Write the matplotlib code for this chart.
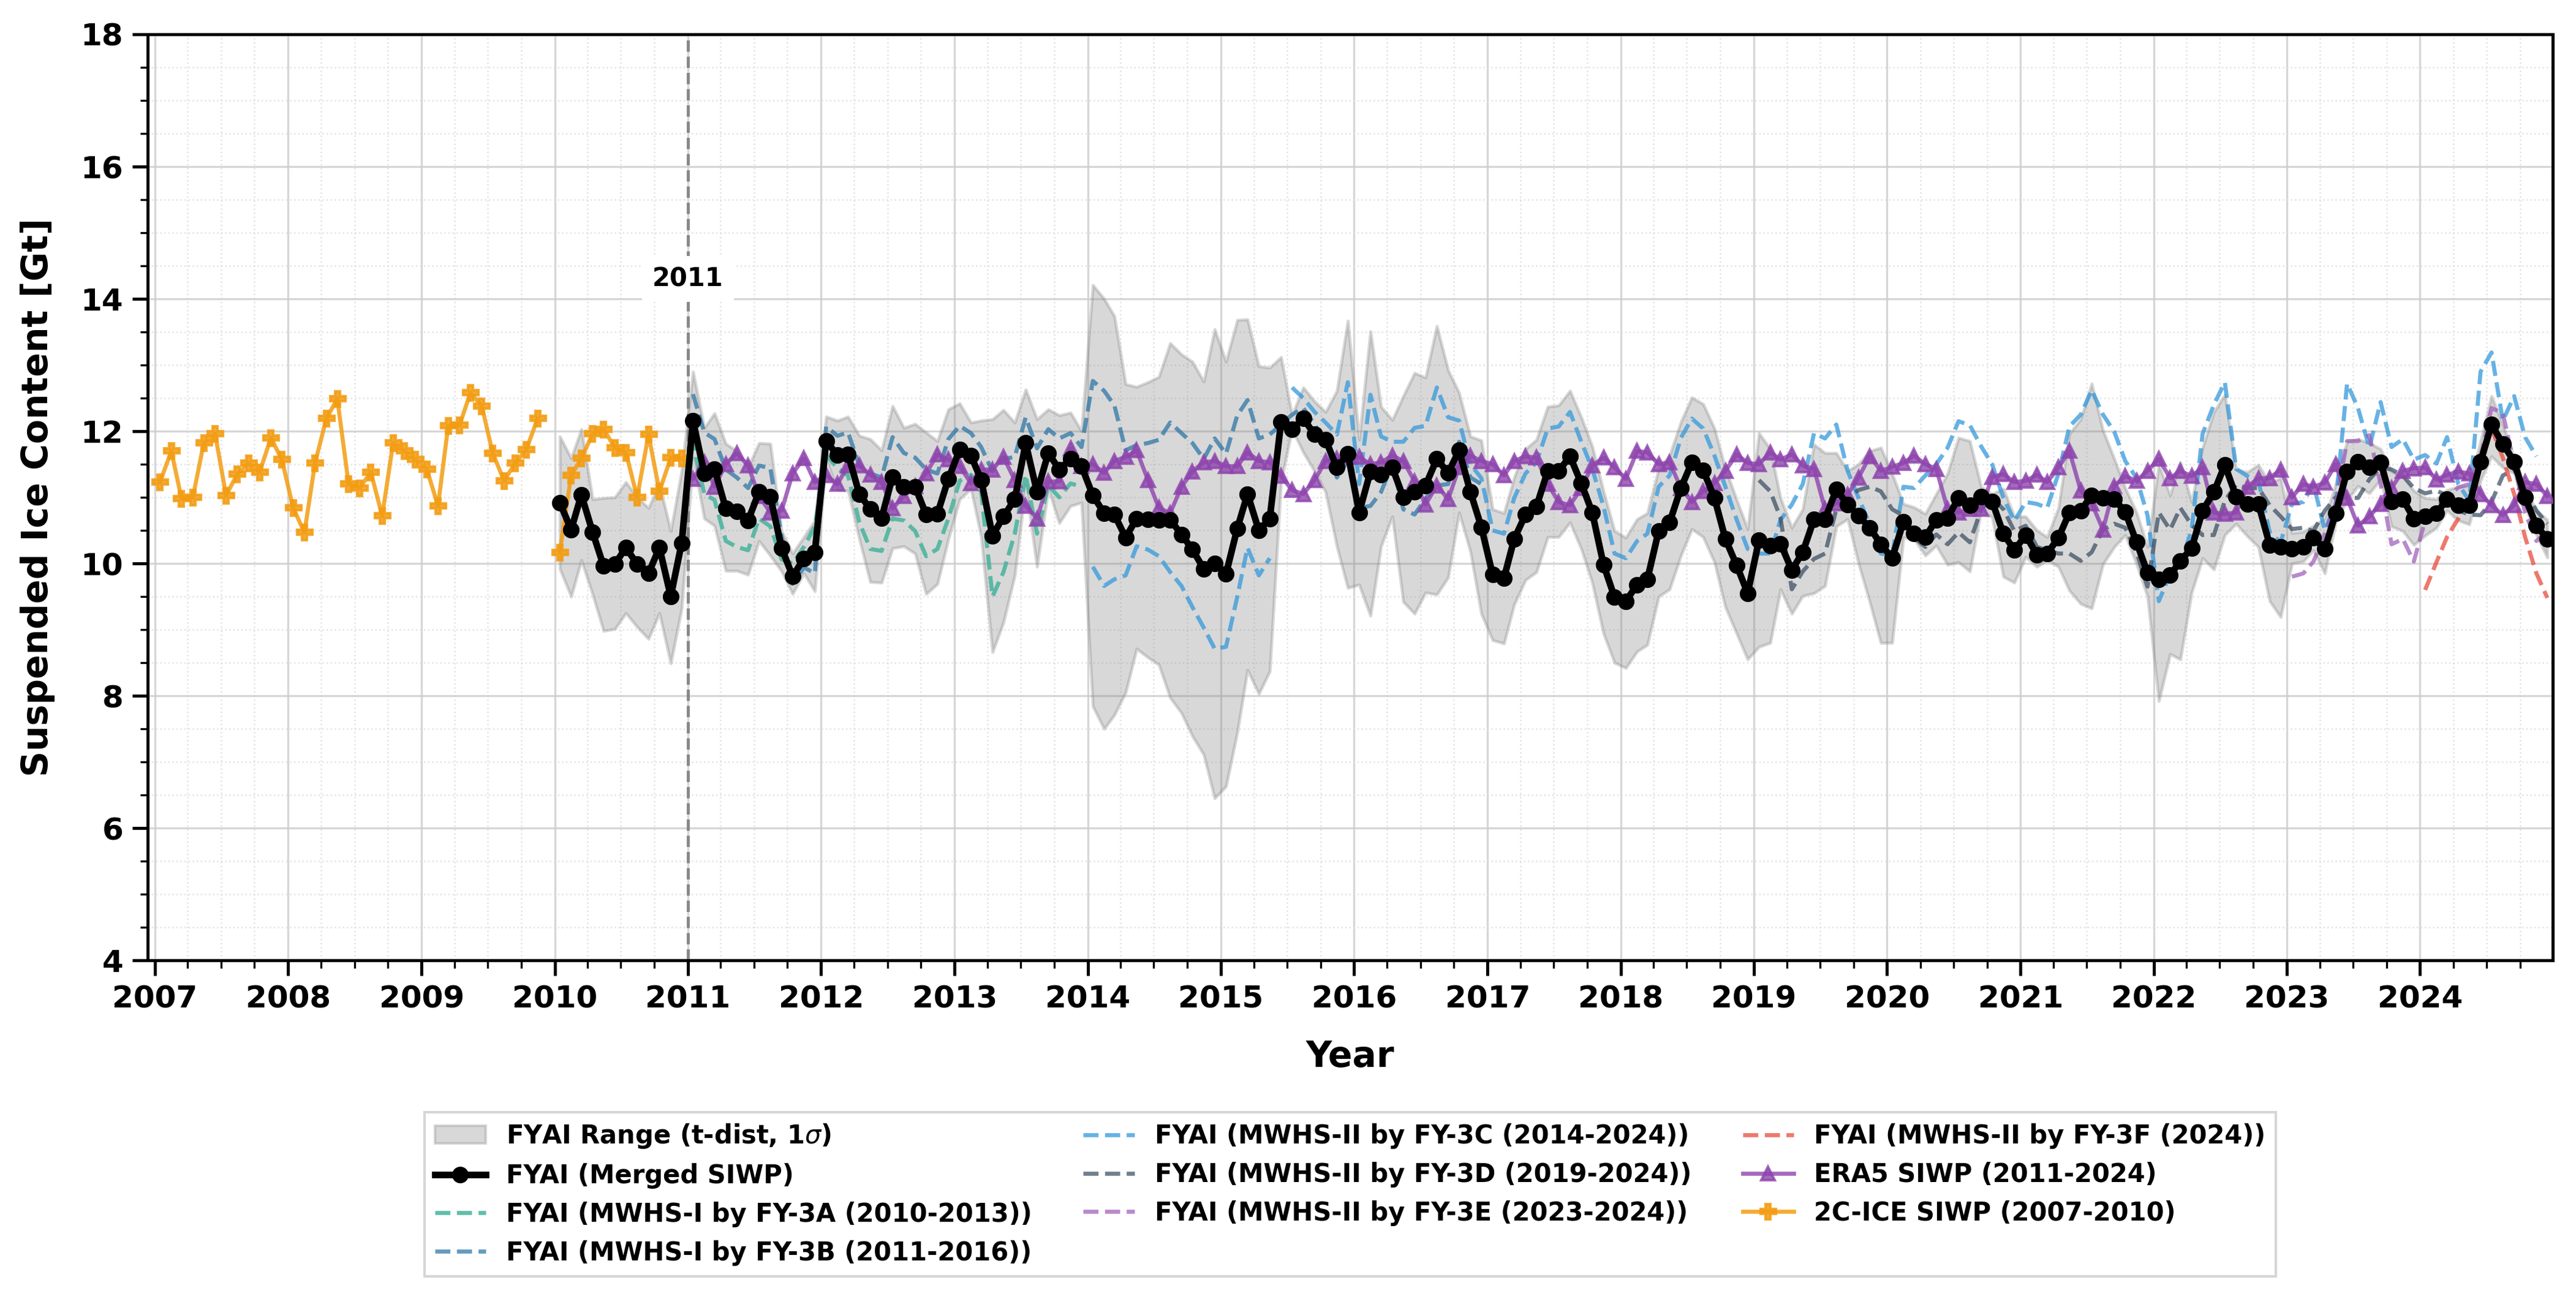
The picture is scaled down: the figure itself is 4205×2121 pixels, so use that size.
import numpy as np
import pandas as pd
import matplotlib
matplotlib.use("Agg")
import matplotlib.pyplot as plt
import matplotlib.dates as mdates
from matplotlib.patches import Patch

nan = np.nan

# monthly values (Gt)
merged_siwp = [
    10.92, 10.51, 11.04, 10.47, 9.96, 9.99, 10.24, 9.99, 9.85, 10.24, 9.50, 10.31,
    12.16, 11.36, 11.43, 10.83, 10.79, 10.65, 11.08, 11.01, 10.23, 9.81, 10.07, 10.17,
    11.85, 11.64, 11.65, 11.05, 10.82, 10.69, 11.31, 11.16, 11.16, 10.74, 10.75, 11.28,
    11.72, 11.63, 11.26, 10.42, 10.71, 10.97, 11.82, 11.08, 11.67, 11.42, 11.58, 11.47,
    11.03, 10.76, 10.74, 10.39, 10.68, 10.67, 10.66, 10.66, 10.44, 10.21, 9.92, 10.00,
    9.84, 10.53, 11.05, 10.50, 10.68, 12.14, 12.03, 12.19, 11.95, 11.87, 11.45, 11.66,
    10.77, 11.39, 11.34, 11.45, 11.00, 11.08, 11.18, 11.58, 11.37, 11.71, 11.08, 10.55,
    9.83, 9.78, 10.37, 10.74, 10.86, 11.40, 11.40, 11.62, 11.21, 10.77, 9.98, 9.49,
    9.43, 9.68, 9.76, 10.49, 10.62, 11.14, 11.53, 11.41, 10.99, 10.37, 9.97, 9.55,
    10.35, 10.27, 10.30, 9.90, 10.17, 10.67, 10.67, 11.12, 10.89, 10.72, 10.54, 10.29,
    10.08, 10.63, 10.45, 10.40, 10.66, 10.69, 10.99, 10.88, 11.01, 10.94, 10.45, 10.20,
    10.43, 10.13, 10.15, 10.39, 10.77, 10.80, 11.03, 10.99, 10.97, 10.78, 10.32, 9.86,
    9.76, 9.82, 10.04, 10.23, 10.80, 11.08, 11.49, 11.01, 10.90, 10.90, 10.28, 10.25,
    10.22, 10.25, 10.39, 10.22, 10.76, 11.39, 11.54, 11.45, 11.53, 10.94, 10.97, 10.68,
    10.71, 10.76, 10.97, 10.88, 10.88, 11.54, 12.10, 11.81, 11.54, 11.00, 10.57, 10.37,
]

range_upper = [
    11.92, 11.59, 12.03, 10.97, 10.99, 11.00, 11.23, 11.00, 10.84, 11.20, 10.49, 11.40,
    12.90, 12.05, 12.27, 11.81, 11.70, 11.45, 11.82, 11.81, 10.49, 10.15, 10.40, 10.65,
    12.22, 12.16, 12.22, 11.93, 11.88, 11.71, 12.38, 12.05, 12.11, 11.98, 11.85, 12.33,
    12.42, 12.13, 12.16, 12.18, 12.32, 12.13, 12.63, 12.18, 12.33, 12.24, 12.28, 12.00,
    14.21, 14.00, 13.74, 12.71, 12.67, 12.74, 12.82, 13.33, 13.16, 13.05, 12.75, 13.54,
    13.05, 13.68, 13.69, 12.98, 12.96, 13.12, 12.24, 12.66, 12.45, 12.29, 12.61, 13.67,
    11.87, 13.51, 12.37, 12.17, 12.53, 12.88, 12.81, 13.59, 12.92, 12.58, 11.92, 11.86,
    10.82, 10.76, 11.30, 11.73, 11.87, 12.37, 12.39, 12.61, 12.21, 11.77, 11.09, 10.49,
    10.39, 10.67, 10.76, 11.43, 11.63, 12.14, 12.51, 12.41, 12.04, 11.43, 10.96, 10.52,
    11.97, 11.73, 10.99, 10.54, 10.82, 11.80, 11.67, 11.67, 11.40, 11.50, 11.70, 11.75,
    11.36, 10.90, 10.85, 10.75, 11.05, 11.36, 11.90, 11.85, 11.16, 11.05, 11.13, 10.71,
    10.71, 10.50, 10.40, 10.84, 11.96, 12.18, 12.72, 12.01, 11.58, 11.14, 10.77, 10.25,
    11.49, 11.03, 11.53, 10.93, 11.75, 12.29, 12.55, 11.42, 11.38, 11.49, 11.21, 11.29,
    10.46, 10.48, 10.57, 10.68, 11.20, 11.85, 11.88, 11.82, 11.73, 11.39, 11.31, 11.10,
    10.99, 10.97, 11.11, 11.16, 11.17, 11.85, 12.53, 12.10, 11.60, 11.14, 10.80, 10.66,
]

range_lower = [
    9.92, 9.50, 10.05, 9.53, 8.98, 9.01, 9.25, 9.04, 8.86, 9.25, 8.49, 9.32,
    11.60, 10.68, 10.57, 9.89, 9.89, 9.83, 10.34, 10.12, 9.88, 9.54, 9.85, 9.58,
    11.57, 11.11, 11.10, 10.37, 9.72, 9.71, 10.23, 10.26, 10.15, 9.54, 9.69, 10.37,
    10.97, 11.13, 10.40, 8.66, 9.11, 9.82, 11.18, 9.95, 11.13, 10.61, 10.87, 10.92,
    7.84, 7.50, 7.71, 8.05, 8.71, 8.58, 8.47, 7.97, 7.74, 7.39, 7.11, 6.45,
    6.63, 7.45, 8.39, 8.03, 8.37, 11.24, 12.03, 11.68, 11.39, 11.08, 10.26, 9.63,
    9.68, 9.21, 10.26, 10.71, 9.42, 9.24, 9.56, 9.53, 9.79, 10.77, 10.18, 9.24,
    8.84, 8.79, 9.38, 9.75, 9.87, 10.40, 10.40, 10.62, 10.22, 9.71, 8.94, 8.50,
    8.42, 8.67, 8.77, 9.50, 9.61, 10.12, 10.52, 10.40, 10.02, 9.34, 8.94, 8.55,
    8.74, 8.80, 9.61, 9.24, 9.51, 9.55, 9.66, 10.56, 10.67, 10.00, 9.41, 8.80,
    8.80, 10.39, 10.37, 10.12, 10.27, 9.98, 10.02, 9.88, 10.80, 10.70, 9.80, 9.71,
    10.10, 9.95, 10.05, 9.95, 9.59, 9.39, 9.32, 9.99, 10.25, 10.43, 9.99, 9.50,
    7.92, 8.63, 8.55, 9.56, 10.08, 9.91, 10.43, 10.60, 10.41, 10.25, 9.43, 9.19,
    10.00, 10.03, 10.20, 9.85, 10.62, 10.96, 11.17, 11.06, 11.27, 10.56, 10.49, 10.28,
    10.42, 10.54, 10.80, 10.65, 10.59, 11.25, 11.62, 11.45, 11.36, 10.86, 10.43, 10.09,
]

fy3a = [
    10.92, 10.51, 11.04, 10.47, 9.96, 9.99, 10.24, 9.99, 9.85, 10.24, 9.50, 10.31,
    11.82, 11.05, 10.96, 10.34, 10.25, 10.20, 10.68, 10.56, 10.06, 10.00, 10.25, 10.56,
    11.64, 11.44, 11.33, 10.62, 10.22, 10.19, 10.68, 10.65, 10.49, 10.11, 10.22, 10.68,
    11.25, 11.34, 11.08, 9.50, 9.87, 10.45, 11.34, 10.45, 11.18, 11.00, 11.21, 11.16,
]

fy3b = [
    12.56, 11.98, 11.88, 11.42, 11.30, 11.14, 11.48, 11.44, 10.40, 9.69, 9.94, 9.85,
    12.07, 11.93, 11.98, 11.48, 11.36, 11.30, 11.91, 11.67, 11.60, 11.42, 11.36, 11.88,
    12.08, 11.97, 11.76, 11.39, 11.58, 11.61, 12.21, 11.74, 12.03, 11.89, 11.97, 11.76,
    12.76, 12.61, 12.39, 11.71, 11.79, 11.82, 11.87, 12.13, 11.97, 11.82, 11.58, 11.89,
    11.66, 12.24, 12.47, 11.89, 11.95, 12.10, 12.25, 12.35, 12.10, 11.85, 11.30, 11.55,
    10.84, 10.87, 11.08, 11.50, 10.82, 10.74, 10.98, 11.18, 11.20, 11.84, 11.30, 11.20,
]

fy3c = [
    9.95, 9.66, 9.76, 9.82, 10.26, 10.21, 10.11, 9.87, 9.66, 9.34, 9.03, 8.71,
    8.74, 9.50, 10.24, 9.82, 10.08, nan, 12.66, 12.50, 12.29, 12.13, 11.95, 12.74,
    11.20, 12.55, 11.92, 11.84, 11.84, 12.05, 12.08, 12.66, 12.21, 12.16, 11.50, 11.29,
    10.50, 10.45, 10.99, 11.36, 11.53, 12.04, 12.07, 12.29, 11.84, 11.43, 10.86, 10.15,
    10.08, 10.34, 10.45, 11.16, 11.33, 11.90, 12.19, 12.04, 11.63, 11.16, 10.66, 10.22,
    10.15, 10.15, 10.66, 10.89, 11.20, 11.97, 11.89, 12.10, 11.40, 10.99, 10.59, 10.15,
    10.12, 11.16, 11.14, 11.33, 11.50, 11.75, 12.15, 12.09, 11.77, 11.50, 10.99, 10.64,
    10.93, 10.90, 10.84, 11.36, 12.07, 12.25, 12.62, 12.25, 11.99, 11.55, 11.29, 10.73,
    9.43, 9.84, 9.99, 10.51, 11.96, 12.40, 12.74, 11.43, 11.32, 11.25, 10.47, 10.32,
    10.90, 10.93, 11.20, 10.50, 10.90, 12.72, 12.35, 11.75, 12.44, 11.76, 11.88, 11.57,
    11.64, 11.51, 11.91, 11.20, 10.95, 12.90, 13.19, 12.16, 12.53, 11.91, 11.62,
]

fy3d = [
    11.26, 11.09, 10.69, 9.61, 9.88, 10.07, 10.15, 10.82, 11.00, 11.11, 11.16, 11.09,
    10.82, 10.72, 10.39, 10.25, 10.44, 10.29, 10.47, 10.32, 10.82, 10.99, 10.82, 10.49,
    10.57, 10.25, 10.20, 10.15, 10.15, 10.04, 10.17, 10.51, 10.60, 10.54, 10.17, 9.65,
    10.77, 10.51, 10.84, 10.58, 10.43, 10.43, 10.95, 11.19, 11.14, 11.14, 10.88, 10.71,
    10.52, 10.54, 10.49, 10.80, 11.00, 11.00, 10.99, 11.27, 11.45, 11.42, 11.33, 11.14,
    11.06, 11.10, 11.03, 10.80, 10.74, 10.73, 10.93, 11.33, 11.42, 11.11, 10.80, 10.60,
]

fy3e = [
    9.80, 9.85, 10.03, 10.45, 10.90, 11.85, 11.85, 11.94, 11.20, 10.29, 10.37, 10.03,
    10.65, 10.85, 11.00, 11.15, 11.20, 11.60, 12.35, 12.27, 11.50, 10.77, 10.34, 10.49,
]

fy3f = [9.60, 10.02, 10.40, 10.68, 10.99, 11.50, 12.04, 11.60, 11.05, 10.40, 9.85, 9.48]

era5 = [
    11.28, 11.53, 11.16, 11.50, 11.67, 11.48, 11.02, 10.77, 10.80, 11.36, 11.59, 11.23,
    11.33, 11.20, 11.48, 11.48, 11.34, 11.23, 10.83, 11.02, 11.17, 11.36, 11.65, 11.57,
    11.47, 11.21, 11.42, 11.42, 11.61, 11.26, 10.87, 10.68, 11.24, 11.24, 11.74, 11.47,
    11.50, 11.37, 11.55, 11.61, 11.71, 11.26, 10.84, 10.76, 11.16, 11.39, 11.53, 11.55,
    11.47, 11.47, 11.68, 11.55, 11.53, 11.32, 11.11, 11.05, 11.26, 11.55, 11.58, 11.61,
    11.61, 11.50, 11.53, 11.63, 11.55, 11.24, 10.89, 11.18, 10.97, 11.45, 11.63, 11.55,
    11.50, 11.33, 11.55, 11.62, 11.60, 11.20, 10.93, 10.88, 11.14, 11.48, 11.60, 11.45,
    11.28, 11.70, 11.68, 11.50, 11.53, 11.14, 10.93, 11.09, 11.21, 11.40, 11.65, 11.52,
    11.50, 11.68, 11.57, 11.65, 11.48, 11.43, 10.82, 10.91, 11.04, 11.30, 11.62, 11.40,
    11.46, 11.52, 11.63, 11.50, 11.43, 10.82, 10.77, 10.82, 10.82, 11.31, 11.35, 11.23,
    11.25, 11.34, 11.23, 11.45, 11.70, 11.10, 10.91, 10.51, 11.17, 11.32, 11.25, 11.40,
    11.58, 11.29, 11.40, 11.32, 11.45, 10.77, 10.75, 10.77, 11.16, 11.29, 11.29, 11.42,
    11.00, 11.20, 11.16, 11.22, 11.50, 10.99, 10.57, 10.71, 10.90, 11.14, 11.40, 11.44,
    11.45, 11.27, 11.34, 11.39, 11.36, 11.05, 10.88, 10.73, 10.88, 11.23, 11.20, 11.02,
]

cloudsat_2c = [
    11.23, 11.70, 10.98, 11.00, 11.82, 11.96, 11.03, 11.35, 11.52, 11.38, 11.90, 11.57,
    10.84, 10.47, 11.52, 12.19, 12.49, 11.20, 11.14, 11.38, 10.72, 11.82, 11.70, 11.57,
    11.43, 10.87, 12.08, 12.09, 12.58, 12.38, 11.67, 11.25, 11.52, 11.72, 12.19, nan,
    10.17, 11.33, 11.59, 11.96, 12.03, 11.75, 11.68, 11.00, 11.95, 11.09, 11.60, 11.59,
]


def months(start, n):
    # mid-month time stamps
    return pd.date_range(start, periods=n, freq="MS") + pd.Timedelta(days=14)


t_merged = months("2010-01-01", len(merged_siwp))
t_3a = months("2010-01-01", len(fy3a))
t_3b = months("2011-01-01", len(fy3b))
t_3c = months("2014-01-01", len(fy3c))
t_3d = months("2019-01-01", len(fy3d))
t_3e = months("2023-01-01", len(fy3e))
t_3f = months("2024-01-01", len(fy3f))
t_era5 = months("2011-01-01", len(era5))
t_2c = months("2007-01-01", len(cloudsat_2c))

fig = plt.figure(figsize=(4205 / 300, 2121 / 300), dpi=300)
ax = fig.add_axes([0.0573, 0.2607, 0.9337, 0.7129])

ax.fill_between(t_merged, range_lower, range_upper, color="gray", alpha=0.3,
                linewidth=1.2, zorder=1)

dash_kw = dict(ls="--", lw=1.6, zorder=3)
ax.plot(t_3a, fy3a, color="#45B39D", alpha=0.85, **dash_kw)
ax.plot(t_3b, fy3b, color="#2471A3", alpha=0.7, **dash_kw)
ax.plot(t_3c, fy3c, color="#3498DB", alpha=0.75, **dash_kw)
ax.plot(t_3d, fy3d, color="#34495E", alpha=0.7, **dash_kw)
ax.plot(t_3e, fy3e, color="#9B59B6", alpha=0.7, **dash_kw)
ax.plot(t_3f, fy3f, color="#E74C3C", alpha=0.75, **dash_kw)

ax.plot(t_era5, era5, color="#8E44AD", marker="^", ms=5.5, lw=1.6, alpha=0.8, zorder=4)
ax.plot(t_merged, merged_siwp, color="black", marker="o", ms=5.5, lw=2.6, zorder=5)
ax.plot(t_2c, cloudsat_2c, color="#F39C12", marker="P", ms=6, lw=1.6, alpha=0.85, zorder=4)

# start of the FY-3B era
split = pd.Timestamp("2011-01-01")
ax.axvline(split, color="gray", ls="--", lw=1.2, alpha=0.9, zorder=2)
ax.text(split, 14.3, "2011", ha="center", va="center", fontsize=10, fontweight="bold",
        bbox=dict(facecolor="white", edgecolor="none", pad=4), zorder=6)

ax.set_xlim(pd.Timestamp("2006-12-12"), pd.Timestamp("2024-12-30"))
ax.set_ylim(4, 18)
ax.set_yticks(np.arange(4, 19, 2))
ax.yaxis.set_minor_locator(plt.MultipleLocator(0.5))
ax.xaxis.set_major_locator(mdates.YearLocator())
ax.xaxis.set_major_formatter(mdates.DateFormatter("%Y"))
ax.xaxis.set_minor_locator(mdates.MonthLocator(bymonth=[1, 4, 7, 10]))

ax.grid(which="major", color="#cccccc", lw=0.8, alpha=0.8)
ax.grid(which="minor", color="#dddddd", lw=0.6, ls=":", alpha=0.8)
ax.set_axisbelow(True)

ax.tick_params(which="major", length=6, width=1.2, labelsize=12)
ax.tick_params(which="minor", length=3, width=0.8)
for lab in ax.get_xticklabels() + ax.get_yticklabels():
    lab.set_fontweight("bold")
for s in ax.spines.values():
    s.set_linewidth(1.2)

ax.set_xlabel("Year", fontsize=14, fontweight="bold", labelpad=10)
ax.set_ylabel("Suspended Ice Content [Gt]", fontsize=14, fontweight="bold", labelpad=10)

handles = [
    Patch(facecolor="gray", alpha=0.3, edgecolor="gray", label=r"FYAI Range (t-dist, 1$\sigma$)"),
    plt.Line2D([], [], color="black", marker="o", ms=5.5, lw=2.6, label="FYAI (Merged SIWP)"),
    plt.Line2D([], [], color="#45B39D", alpha=0.85, ls="--", lw=1.6, label="FYAI (MWHS-I by FY-3A (2010-2013))"),
    plt.Line2D([], [], color="#2471A3", alpha=0.7, ls="--", lw=1.6, label="FYAI (MWHS-I by FY-3B (2011-2016))"),
    plt.Line2D([], [], color="#3498DB", alpha=0.75, ls="--", lw=1.6, label="FYAI (MWHS-II by FY-3C (2014-2024))"),
    plt.Line2D([], [], color="#34495E", alpha=0.7, ls="--", lw=1.6, label="FYAI (MWHS-II by FY-3D (2019-2024))"),
    plt.Line2D([], [], color="#9B59B6", alpha=0.7, ls="--", lw=1.6, label="FYAI (MWHS-II by FY-3E (2023-2024))"),
    plt.Line2D([], [], color="#E74C3C", alpha=0.75, ls="--", lw=1.6, label="FYAI (MWHS-II by FY-3F (2024))"),
    plt.Line2D([], [], color="#8E44AD", alpha=0.8, marker="^", ms=5.5, lw=1.6, label="ERA5 SIWP (2011-2024)"),
    plt.Line2D([], [], color="#F39C12", alpha=0.85, marker="P", ms=6, lw=1.6, label="2C-ICE SIWP (2007-2010)"),
]
ax.legend(handles=handles, loc="upper center", bbox_to_anchor=(0.5, -0.15), ncol=3,
          prop={"size": 10, "weight": "bold"}, frameon=True, fancybox=False,
          edgecolor="#cccccc", columnspacing=2.0, handlelength=2.0)

fig.savefig("out.png", dpi=300)
